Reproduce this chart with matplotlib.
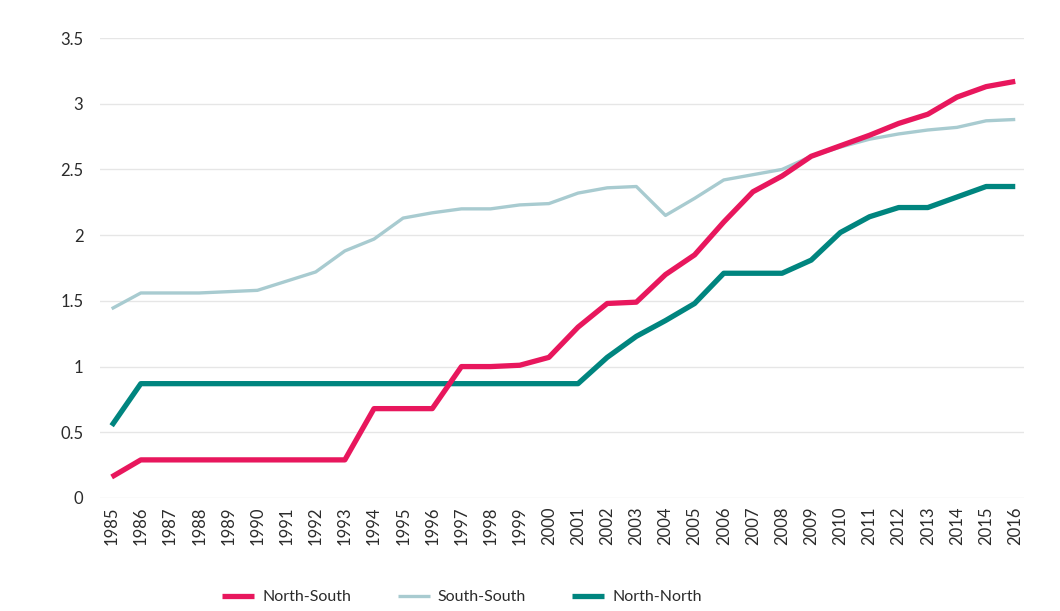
import matplotlib
matplotlib.use("Agg")
import matplotlib.pyplot as plt

years = list(range(1985, 2017))
north_south = [0.16, 0.29, 0.29, 0.29, 0.29, 0.29, 0.29, 0.29, 0.29, 0.68,
               0.68, 0.68, 1.00, 1.00, 1.01, 1.07, 1.30, 1.48, 1.49, 1.70,
               1.85, 2.10, 2.33, 2.45, 2.60, 2.68, 2.76, 2.85, 2.92, 3.05,
               3.13, 3.17]
south_south = [1.44, 1.56, 1.56, 1.56, 1.57, 1.58, 1.65, 1.72, 1.88, 1.97,
               2.13, 2.17, 2.20, 2.20, 2.23, 2.24, 2.32, 2.36, 2.37, 2.15,
               2.28, 2.42, 2.46, 2.50, 2.60, 2.67, 2.73, 2.77, 2.80, 2.82,
               2.87, 2.88]
north_north = [0.55, 0.87, 0.87, 0.87, 0.87, 0.87, 0.87, 0.87, 0.87, 0.87,
               0.87, 0.87, 0.87, 0.87, 0.87, 0.87, 0.87, 1.07, 1.23, 1.35,
               1.48, 1.71, 1.71, 1.71, 1.81, 2.02, 2.14, 2.21, 2.21, 2.29,
               2.37, 2.37]
y_ticks = [0, 0.5, 1, 1.5, 2, 2.5, 3, 3.5]
y_labels = ["0", "0.5", "1", "1.5", "2", "2.5", "3", "3.5"]

plt.rcParams['font.family'] = ['Lato', 'DejaVu Sans']
txt = '#2b2b2b'

fig = plt.figure(figsize=(10.6, 6.11), dpi=100)
ax = fig.add_axes([100/1060, 1 - 498/611, 924/1060, 460/611])

c_ns = '#E8175D'
c_ss = '#A8CBD0'
c_nn = '#00857F'

ax.plot(years, south_south, color=c_ss, lw=2.4, label='South-South', solid_capstyle='butt', zorder=3)
ax.plot(years, north_north, color=c_nn, lw=3.8, label='North-North', solid_capstyle='butt', zorder=4)
ax.plot(years, north_south, color=c_ns, lw=3.8, label='North-South', solid_capstyle='butt', zorder=5)

ax.set_xlim(1984.6, 2016.3)
ax.set_ylim(0, 3.5)
ax.set_yticks(y_ticks)
ax.set_yticklabels(y_labels)
ax.set_xticks(years)
ax.set_xticklabels([str(y) for y in years], rotation=90)
ax.tick_params(axis='both', length=0, labelsize=12, colors=txt)
ax.tick_params(axis='y', pad=12)
ax.tick_params(axis='x', pad=6)
ax.grid(axis='y', color='#e6e6e6', lw=1)
ax.set_axisbelow(True)
for s in ax.spines.values():
    s.set_visible(False)

handles, labels = ax.get_legend_handles_labels()
order = [2, 0, 1]
leg = fig.legend([handles[i] for i in order], [labels[i] for i in order],
                 loc='center', bbox_to_anchor=(462/1060, 1 - 597/611), ncol=3,
                 frameon=False, fontsize=11.5, handlelength=2.0, columnspacing=2.9,
                 handletextpad=0.5)
for t in leg.get_texts():
    t.set_color(txt)

fig.savefig('out.png', dpi=100)
